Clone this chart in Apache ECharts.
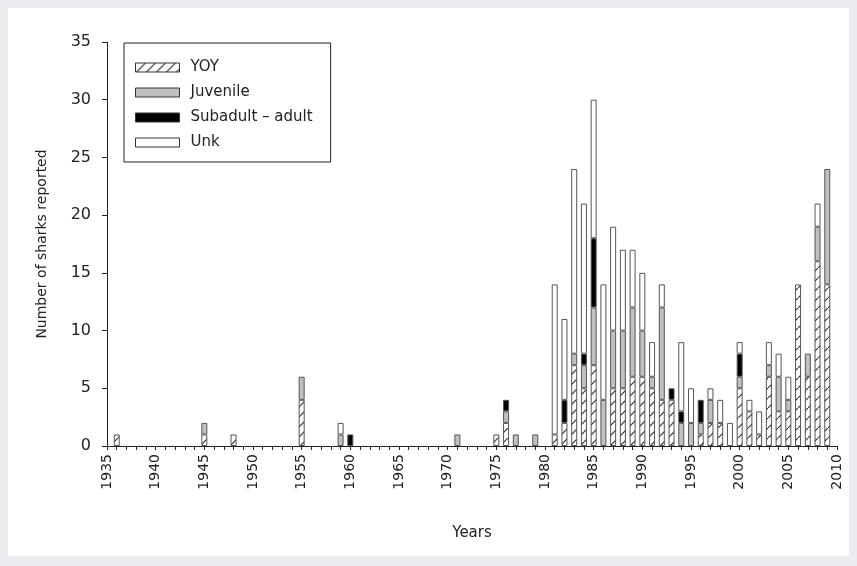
<!DOCTYPE html>
<html>
<head>
<meta charset="utf-8">
<script src="https://cdn.jsdelivr.net/npm/echarts@6/dist/echarts.min.js"></script>
<style>
html,body{margin:0;padding:0;width:857px;height:566px;background:#ebebf0;overflow:hidden;}
#chart{position:absolute;left:8px;top:8px;width:841px;height:548px;background:#fff;}
</style>
</head>
<body>
<div id="chart"></div>
<script>
const years = [
 '1935','1936','1937','1938','1939','1940','1941','1942','1943','1944',
 '1945','1946','1947','1948','1949','1950','1951','1952','1953','1954',
 '1955','1956','1957','1958','1959','1960','1961','1962','1963','1964',
 '1965','1966','1967','1968','1969','1970','1971','1972','1973','1974',
 '1975','1976','1977','1978','1979','1980','1981','1982','1983','1984',
 '1985','1986','1987','1988','1989','1990','1991','1992','1993','1994',
 '1995','1996','1997','1998','1999','2000','2001','2002','2003','2004',
 '2005','2006','2007','2008','2009','2010'];

const yoy = [
 0,1,0,0,0,0,0,0,0,0,
 1,0,0,1,0,0,0,0,0,0,
 4,0,0,0,0,0,0,0,0,0,
 0,0,0,0,0,0,0,0,0,0,
 1,2,0,0,0,0,1,2,7,5,
 7,0,5,5,6,6,5,4,4,0,
 0,1,2,2,0,5,3,1,6,3,
 3,14,6,16,14,0];

const juvenile = [
 0,0,0,0,0,0,0,0,0,0,
 1,0,0,0,0,0,0,0,0,0,
 2,0,0,0,1,0,0,0,0,0,
 0,0,0,0,0,0,1,0,0,0,
 0,1,1,0,1,0,0,0,1,2,
 5,4,5,5,6,4,1,8,0,2,
 2,1,2,0,0,1,0,0,1,3,
 1,0,2,3,10,0];

const subadult = [
 0,0,0,0,0,0,0,0,0,0,
 0,0,0,0,0,0,0,0,0,0,
 0,0,0,0,0,1,0,0,0,0,
 0,0,0,0,0,0,0,0,0,0,
 0,1,0,0,0,0,0,2,0,1,
 6,0,0,0,0,0,0,0,1,1,
 0,2,0,0,0,2,0,0,0,0,
 0,0,0,0,0,0];

const unk = [
 0,0,0,0,0,0,0,0,0,0,
 0,0,0,0,0,0,0,0,0,0,
 0,0,0,0,1,0,0,0,0,0,
 0,0,0,0,0,0,0,0,0,0,
 0,0,0,0,0,0,13,7,16,13,
 12,10,9,7,5,5,3,2,0,6,
 3,0,1,2,2,1,1,2,2,2,
 2,0,0,2,0,0];

const seriesNames = ['YOY', 'Juvenile', 'Subadult \u2013 adult', 'Unk'];
const yTicks = [0, 5, 10, 15, 20, 25, 30, 35];

// hatch pattern
const hc = document.createElement('canvas');
hc.width = 10; hc.height = 10;
const hx = hc.getContext('2d');
hx.fillStyle = '#fff'; hx.fillRect(0, 0, 10, 10);
hx.strokeStyle = '#333'; hx.lineWidth = 1.2;
hx.beginPath(); hx.moveTo(-1, 11); hx.lineTo(11, -1); hx.stroke();
const hatch = { image: hc, repeat: 'repeat' };

const fills = [hatch, '#c0c0c0', '#000000', '#ffffff'];
const dataSets = [yoy, juvenile, subadult, unk];
const nz = arr => arr.map(v => (v === 0 ? null : v));

const FONT = 'DejaVu Sans';
const chart = echarts.init(document.getElementById('chart'), null, { renderer: 'canvas' });
chart.setOption({
  backgroundColor: '#ffffff',
  animation: false,
  textStyle: { fontFamily: FONT, color: '#222' },
  grid: { left: 99, right: 12, top: 34, bottom: 110 },
  legend: {
    orient: 'vertical',
    left: 116, top: 35,
    padding: [17, 18, 12, 11],
    itemWidth: 44, itemHeight: 9, itemGap: 10,
    borderColor: '#222', borderWidth: 1,
    icon: 'rect',
    textStyle: { fontFamily: FONT, fontSize: 15, color: '#222', padding: [0, 0, 0, 6] },
    data: seriesNames.map((n, i) => ({
      name: n, icon: 'rect',
      itemStyle: { color: fills[i], borderColor: '#333', borderWidth: 1 }
    }))
  },
  xAxis: {
    type: 'category',
    data: years,
    boundaryGap: false,
    name: 'Years',
    nameLocation: 'middle',
    nameGap: 80,
    nameTextStyle: { fontFamily: FONT, fontSize: 15, color: '#222' },
    axisLine: { lineStyle: { color: '#222', width: 1 } },
    axisTick: { show: true, interval: 0, length: 4, lineStyle: { color: '#222' } },
    axisLabel: {
      interval: 4, rotate: 90, margin: 8,
      fontFamily: FONT, fontSize: 14, color: '#222'
    },
    splitLine: { show: false }
  },
  yAxis: {
    type: 'value',
    min: yTicks[0], max: yTicks[yTicks.length - 1], interval: 5,
    name: 'Number of sharks reported',
    nameLocation: 'middle',
    nameGap: 58,
    nameTextStyle: { fontFamily: FONT, fontSize: 14, color: '#222' },
    axisLine: { show: true, lineStyle: { color: '#222', width: 1 } },
    axisTick: { show: true, length: 5, lineStyle: { color: '#222' } },
    axisLabel: { fontFamily: FONT, fontSize: 16, color: '#222', margin: 16 },
    splitLine: { show: false }
  },
  series: seriesNames.map((n, i) => ({
    name: n,
    type: 'bar',
    stack: 'total',
    barWidth: 6,
    data: nz(dataSets[i]),
    itemStyle: { color: fills[i], borderColor: '#555', borderWidth: 1 },
    emphasis: { disabled: true }
  }))
});
</script>
</body>
</html>
